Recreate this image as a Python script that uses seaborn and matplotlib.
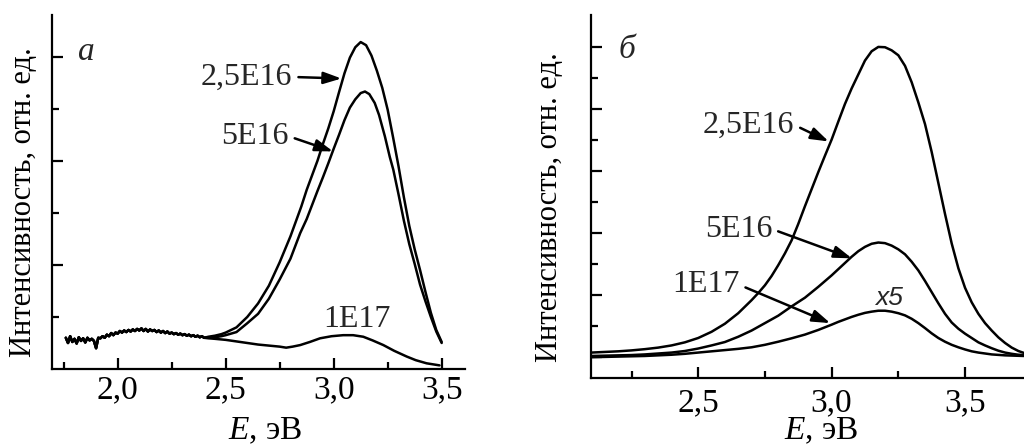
import numpy as np
import pandas as pd
import matplotlib
matplotlib.use("Agg")
import matplotlib.pyplot as plt
import seaborn as sns

# ---------------- data: panel a ----------------
base_x = [1.76, 1.77, 1.78, 1.79, 1.80, 1.81, 1.82, 1.83, 1.84, 1.85, 1.86, 1.87, 1.88, 1.89,
          1.90, 1.91, 1.92, 1.93, 1.94, 1.95, 1.96, 1.97, 1.98, 1.99, 2.00, 2.01, 2.02, 2.03,
          2.04, 2.05, 2.06, 2.07, 2.08, 2.09, 2.10, 2.11, 2.12, 2.13, 2.14, 2.15, 2.16, 2.17,
          2.18, 2.19, 2.20, 2.21, 2.22, 2.23, 2.24, 2.25, 2.26, 2.27, 2.28, 2.29, 2.30, 2.31,
          2.32, 2.33, 2.34, 2.35, 2.36, 2.37, 2.38, 2.39, 2.40]
base_y = [0.60, 0.50, 0.63, 0.52, 0.58, 0.49, 0.61, 0.54, 0.59, 0.51, 0.60, 0.55, 0.58, 0.54,
          0.40, 0.60, 0.59, 0.63, 0.60, 0.66, 0.63, 0.69, 0.65, 0.70, 0.68, 0.73, 0.70, 0.74,
          0.71, 0.75, 0.72, 0.76, 0.73, 0.77, 0.74, 0.78, 0.73, 0.77, 0.72, 0.76, 0.73, 0.75,
          0.71, 0.74, 0.70, 0.73, 0.69, 0.72, 0.68, 0.70, 0.67, 0.69, 0.66, 0.68, 0.65, 0.67,
          0.64, 0.66, 0.63, 0.65, 0.62, 0.64, 0.61, 0.63, 0.60]

a1_x = [2.42, 2.45, 2.48, 2.50, 2.55, 2.60, 2.65, 2.70, 2.75, 2.80, 2.85, 2.875, 2.90, 2.925,
        2.95, 2.975, 3.00, 3.025, 3.05, 3.075, 3.10, 3.125, 3.15, 3.175, 3.20, 3.225, 3.25,
        3.275, 3.30, 3.325, 3.35, 3.375, 3.40, 3.425, 3.45, 3.475, 3.50]
a1_y = [0.62, 0.64, 0.67, 0.70, 0.80, 1.00, 1.26, 1.60, 2.05, 2.55, 3.12, 3.44, 3.72, 4.00,
        4.32, 4.62, 4.95, 5.32, 5.68, 5.98, 6.18, 6.28, 6.22, 6.02, 5.73, 5.40, 4.98,
        4.45, 3.90, 3.30, 2.75, 2.30, 1.90, 1.48, 1.08, 0.75, 0.52]

a2_x = [2.42, 2.45, 2.48, 2.50, 2.55, 2.60, 2.65, 2.70, 2.75, 2.80, 2.845, 2.875, 2.90, 2.925,
        2.95, 2.975, 3.00, 3.025, 3.05, 3.075, 3.10, 3.125, 3.145, 3.165, 3.19, 3.21, 3.237,
        3.26, 3.276, 3.30, 3.325, 3.35, 3.375, 3.40, 3.425, 3.45, 3.475, 3.50]
a2_y = [0.61, 0.61, 0.63, 0.65, 0.71, 0.88, 1.06, 1.35, 1.72, 2.12, 2.61, 2.88, 3.15, 3.42,
        3.68, 3.95, 4.23, 4.50, 4.78, 5.02, 5.18, 5.30, 5.33, 5.28, 5.11, 4.88, 4.47,
        4.07, 3.83, 3.36, 2.85, 2.40, 2.02, 1.62, 1.30, 1.00, 0.72, 0.50]

a3_x = [2.42, 2.45, 2.50, 2.55, 2.60, 2.65, 2.70, 2.75, 2.78, 2.81, 2.845, 2.89, 2.937, 2.99,
        3.044, 3.09, 3.137, 3.18, 3.23, 3.28, 3.338, 3.38, 3.43, 3.49]
a3_y = [0.59, 0.58, 0.56, 0.53, 0.50, 0.47, 0.45, 0.43, 0.41, 0.43, 0.46, 0.52, 0.59, 0.63,
        0.65, 0.65, 0.62, 0.55, 0.46, 0.35, 0.24, 0.17, 0.11, 0.07]

# ---------------- data: panel b ----------------
b1_x = [2.10, 2.15, 2.20, 2.25, 2.30, 2.35, 2.40, 2.45, 2.50, 2.55, 2.60, 2.65, 2.70,
        2.725, 2.75, 2.775, 2.80, 2.825, 2.85, 2.875, 2.90, 2.925, 2.95,
        2.975, 3.00, 3.025, 3.05, 3.075, 3.10, 3.125, 3.15, 3.175, 3.20,
        3.225, 3.25, 3.275, 3.30, 3.325, 3.35, 3.375, 3.40, 3.425, 3.45,
        3.475, 3.50, 3.525, 3.55, 3.575, 3.60, 3.625, 3.65, 3.675, 3.70, 3.72]
b1_y = [0.13, 0.15, 0.17, 0.20, 0.24, 0.29, 0.36, 0.46, 0.60, 0.80, 1.06, 1.40, 1.82,
        2.05, 2.30, 2.60, 2.95, 3.33, 3.75, 4.28, 4.85, 5.40, 5.95,
        6.48, 7.00, 7.58, 8.15, 8.65, 9.10, 9.55, 9.85, 9.99, 9.98,
        9.88, 9.72, 9.38, 8.85, 8.20, 7.50, 6.60, 5.60, 4.60, 3.65,
        2.85, 2.22, 1.75, 1.38, 1.08, 0.84, 0.62, 0.44, 0.29, 0.18, 0.12]

b2_x = [2.10, 2.15, 2.20, 2.25, 2.30, 2.35, 2.40, 2.45, 2.50, 2.55, 2.60, 2.65, 2.70, 2.75,
        2.80, 2.85, 2.90, 2.95, 3.00, 3.025, 3.05, 3.075, 3.10, 3.125, 3.15, 3.175, 3.20,
        3.225, 3.25, 3.275, 3.30, 3.325, 3.35, 3.375, 3.40, 3.425, 3.45, 3.475, 3.50,
        3.525, 3.55, 3.575, 3.60, 3.625, 3.65, 3.675, 3.70, 3.72]
b2_y = [0.02, 0.03, 0.04, 0.05, 0.07, 0.10, 0.13, 0.18, 0.26, 0.36, 0.47, 0.64, 0.84, 1.08,
        1.32, 1.62, 1.90, 2.25, 2.62, 2.82, 3.02, 3.22, 3.40, 3.54, 3.64, 3.68, 3.66,
        3.58, 3.46, 3.30, 3.06, 2.78, 2.44, 2.08, 1.72, 1.38, 1.10, 0.90, 0.74,
        0.60, 0.46, 0.36, 0.27, 0.19, 0.13, 0.09, 0.06, 0.05]

b3_x = [2.10, 2.15, 2.20, 2.25, 2.30, 2.35, 2.40, 2.45, 2.50, 2.55, 2.60, 2.65, 2.70, 2.75,
        2.80, 2.85, 2.90, 2.95, 3.00, 3.025, 3.05, 3.075, 3.10, 3.125, 3.15, 3.175, 3.20,
        3.225, 3.25, 3.275, 3.30, 3.325, 3.35, 3.375, 3.40, 3.425, 3.45, 3.475, 3.50,
        3.525, 3.55, 3.575, 3.60, 3.65, 3.72]
b3_y = [-0.02, -0.01, 0.00, 0.01, 0.02, 0.04, 0.06, 0.09, 0.13, 0.17, 0.21, 0.25, 0.30, 0.38,
        0.48, 0.59, 0.71, 0.86, 1.03, 1.12, 1.20, 1.28, 1.35, 1.41, 1.45, 1.48, 1.48,
        1.45, 1.40, 1.33, 1.22, 1.08, 0.92, 0.75, 0.60, 0.48, 0.38, 0.30, 0.23,
        0.17, 0.13, 0.10, 0.07, 0.04, 0.02]

labels = ["2,5E16", "5E16", "1E17"]
a_xticks = [2.0, 2.5, 3.0, 3.5]
a_xticklabels = ["2,0", "2,5", "3,0", "3,5"]
b_xticks = [2.5, 3.0, 3.5]
b_xticklabels = ["2,5", "3,0", "3,5"]

# ---------------- style ----------------
sns.set_theme(style="ticks")
plt.rcParams["font.family"] = ["Liberation Serif", "DejaVu Serif"]
plt.rcParams["mathtext.fontset"] = "custom"
plt.rcParams["mathtext.it"] = "Liberation Serif:italic"
plt.rcParams["mathtext.rm"] = "Liberation Serif"
plt.rcParams["axes.linewidth"] = 1.6

FS_TICK = 24
FS_LAB = 22
FS_ANN = 23
fig = plt.figure(figsize=(10.24, 4.46), dpi=100)
axA = fig.add_axes([0.0508, 0.1726, 0.4033, 0.7938])
axB = fig.add_axes([0.5771, 0.1525, 0.4229, 0.8139])

lw = 1.8
for xs, ys in [(base_x + a1_x, base_y + a1_y),
               (base_x + a2_x, base_y + a2_y),
               (base_x + a3_x, base_y + a3_y)]:
    sns.lineplot(x=xs, y=ys, ax=axA, color="black", lw=lw, sort=False, estimator=None)

for xs, ys in [(b1_x, b1_y), (b2_x, b2_y), (b3_x, b3_y)]:
    sns.lineplot(x=xs, y=ys, ax=axB, color="black", lw=lw, sort=False, estimator=None)

# axes setup
for ax in (axA, axB):
    sns.despine(ax=ax)
    ax.tick_params(axis="both", which="both", direction="in", color="black", width=1.6)
    ax.tick_params(axis="both", which="major", length=8)
    ax.tick_params(axis="both", which="minor", length=5)
    ax.tick_params(axis="y", which="both", labelleft=False)
    ax.tick_params(axis="x", labelsize=FS_TICK, labelcolor="black")
    for s in ax.spines.values():
        s.set_color("black")

axA.set_xlim(1.696, 3.608)
axA.set_ylim(0, 6.8)
axA.set_xticks(a_xticks)
axA.set_xticklabels(a_xticklabels)
axA.set_xticks([1.75, 2.25, 2.75, 3.25], minor=True)
axA.set_yticks([2, 4, 6])
axA.set_yticks([1, 3, 5], minor=True)
axA.tick_params(axis="x", which="major", pad=4)

axB.set_xlim(2.098, 3.721)
axB.set_ylim(-0.69, 11.02)
axB.set_xticks(b_xticks)
axB.set_xticklabels(b_xticklabels)
axB.set_xticks([2.25, 2.75, 3.25], minor=True)
axB.set_yticks([0, 2, 4, 6, 8, 10])
axB.set_yticks([1, 3, 5, 7, 9], minor=True)
axB.tick_params(axis="x", which="major", pad=7)

ylab = "Интенсивность, отн. ед."
xlab = "$E$, эВ"
for ax, ycx, xcx, xcy in [(axA, -0.070, 0.516, -0.175), (axB, -0.095, 0.531, -0.146)]:
    ax.set_ylabel(ylab, fontsize=FS_LAB, color="black")
    ax.yaxis.set_label_coords(ycx, 0.47)
    ax.yaxis.label.set_va("center")
    ax.set_xlabel(xlab, fontsize=FS_TICK, color="black")
    ax.xaxis.set_label_coords(xcx, xcy)
    ax.xaxis.label.set_va("center")

# panel letters
axA.text(1.853, 6.10, "а", fontsize=FS_TICK, style="italic", ha="center", va="center")
axB.text(2.233, 9.89, "б", fontsize=FS_TICK, style="italic", ha="center", va="center")

arrow = dict(arrowstyle="-|>,head_length=0.6,head_width=0.2", color="black", lw=1.8,
             mutation_scale=18, shrinkA=2, shrinkB=0, relpos=(1.0, 0.5))

# panel a annotations
axA.annotate(labels[0], xy=(3.036, 5.58), xytext=(2.597, 5.61), fontsize=FS_ANN,
             ha="center", va="center", arrowprops=arrow)
axA.annotate(labels[1], xy=(2.997, 4.18), xytext=(2.636, 4.47), fontsize=FS_ANN,
             ha="center", va="center", arrowprops=arrow)
axA.text(3.106, 0.96, labels[2], fontsize=FS_ANN, ha="center", va="center")

# panel b annotations
axB.annotate(labels[0], xy=(2.989, 6.94), xytext=(2.689, 7.47), fontsize=FS_ANN,
             ha="center", va="center", arrowprops=arrow)
axB.annotate(labels[1], xy=(3.076, 3.17), xytext=(2.651, 4.11), fontsize=FS_ANN,
             ha="center", va="center", arrowprops=arrow)
axB.annotate(labels[2], xy=(2.995, 1.08), xytext=(2.529, 2.31), fontsize=FS_ANN,
             ha="center", va="center", arrowprops=arrow)
axB.text(3.214, 1.88, "x5", fontsize=FS_ANN - 4, style="italic", family="Liberation Sans",
         ha="center", va="center")

fig.savefig("out.png", dpi=100, facecolor="white")
